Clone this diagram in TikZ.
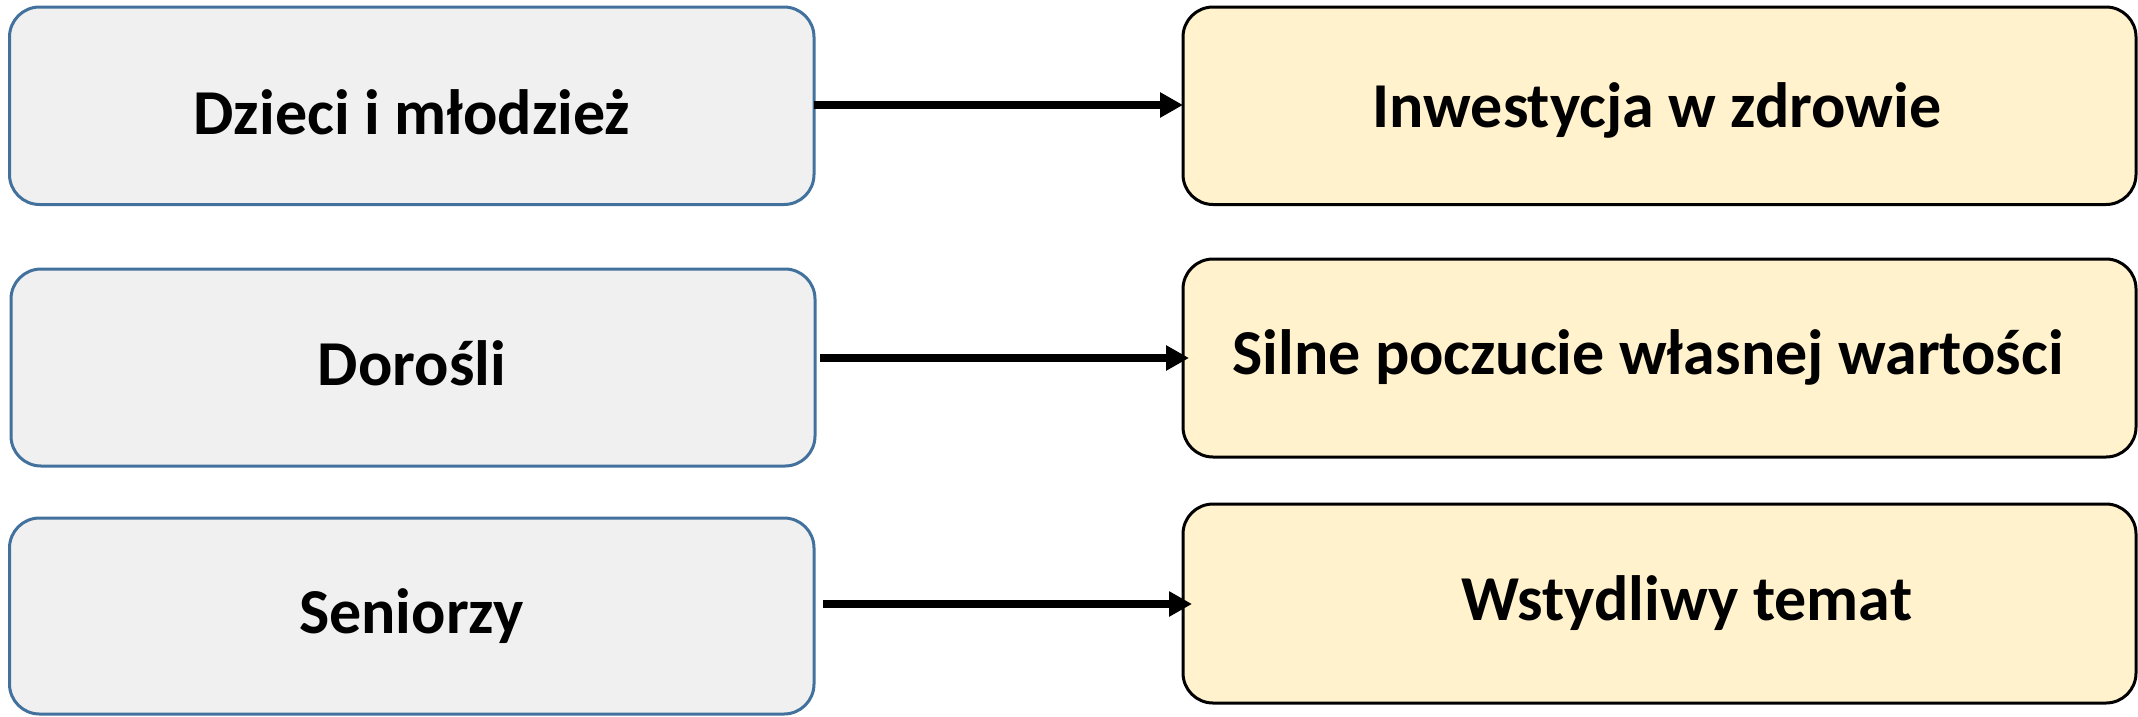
\documentclass[tikz,border=0pt]{standalone}
\usepackage{fontspec}
\setmainfont{Carlito}
\usetikzlibrary{arrows.meta}
\definecolor{lfill}{HTML}{F0F0F0}
\definecolor{lborder}{HTML}{41719C}
\definecolor{rfill}{HTML}{FFF2CC}
\begin{document}
\begin{tikzpicture}[x=1pt,y=-1pt,
  lbox/.style={draw=lborder, fill=lfill, line width=3pt, rounded corners=30pt, outer sep=0pt, inner sep=0pt},
  rbox/.style={draw=black, fill=rfill, line width=3pt, rounded corners=30pt, outer sep=0pt, inner sep=0pt},
  txt/.style={font=\fontsize{64}{70}\selectfont\bfseries, inner sep=0pt, anchor=base},
  arr/.style={line width=8pt, -{Triangle[length=23pt,width=24pt]}}]
\useasboundingbox (0,0) rectangle (2138,716);
\node[lbox, minimum width=804.5pt, minimum height=197.5pt] (l1) at (411.75,105.75) {};
\node[lbox, minimum width=804pt, minimum height=197pt] (l2) at (413,367.5) {};
\node[lbox, minimum width=804.5pt, minimum height=196pt] (l3) at (411.75,616) {};
\node[rbox, minimum width=953pt, minimum height=197.5pt] (r1) at (1659.5,105.75) {};
\node[rbox, minimum width=953pt, minimum height=198pt] (r2) at (1659.5,358) {};
\node[rbox, minimum width=953pt, minimum height=199pt] (r3) at (1659.5,603.5) {};
\node[txt] (t1) at (412,134) {Dzieci i młodzież};
\node[txt] (t2) at (412,385) {Dorośli};
\node[txt] (t3) at (411.5,633) {Seniorzy};
\node[txt] (t4) at (1657,127) {Inwestycja w zdrowie};
\node[txt] (t5) at (1648,374) {Silne poczucie własnej wartości};
\node[txt] (t6) at (1687,620) {Wstydliwy temat};
\draw[arr] (l1.east |- 0,105) -- (r1.west |- 0,105);
\draw[arr] ([xshift=5pt]l2.east |- r2.west) -- ([xshift=6pt]r2.west);
\draw[arr] ([xshift=9pt]l3.east |- 0,604) -- ([xshift=9pt]r3.west |- 0,604);
\end{tikzpicture}
\end{document}
